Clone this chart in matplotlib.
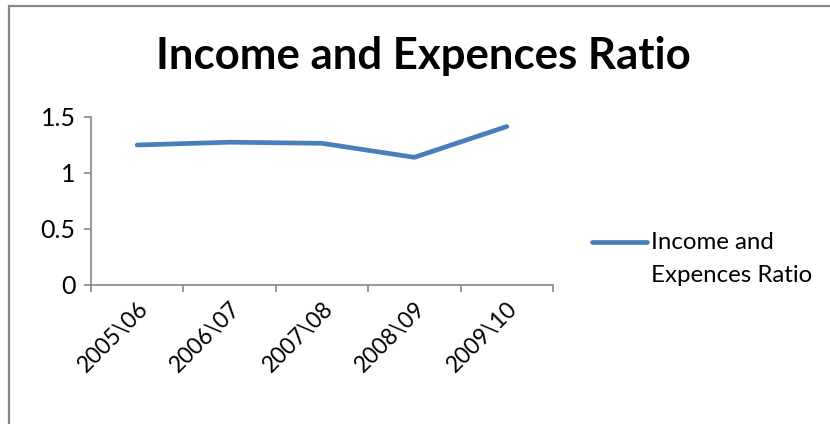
import matplotlib
matplotlib.use("Agg")
import matplotlib.pyplot as plt
import numpy as np
from matplotlib.patches import Rectangle

categories = ["2005\\06", "2006\\07", "2007\\08", "2008\\09", "2009\\10"]
ratio = [1.25, 1.275, 1.265, 1.14, 1.415]
series_name = "Income and\nExpences Ratio"
y_ticks = [0, 0.5, 1, 1.5]
y_tick_labels = ["0", "0.5", "1", "1.5"]

plt.rcParams['font.family'] = ['Lato', 'DejaVu Sans']

W, H = 830, 424
fig = plt.figure(figsize=(W / 100, H / 100), dpi=100)
ax = fig.add_axes([91 / W, 1 - 285 / H, (553 - 91) / W, (285 - 117) / H])

gray = '#878787'
x = list(range(len(categories)))
ax.plot(x, ratio, color='#4a7ebb', lw=3.4, solid_capstyle='round',
        solid_joinstyle='round', label=series_name)

ax.set_xlim(-0.5, len(categories) - 0.5)
ax.set_ylim(0, 1.5)
ax.set_yticks(y_ticks)
ax.set_yticklabels(y_tick_labels)

ax.set_xticks([i - 0.5 for i in range(len(categories) + 1)])
ax.set_xticklabels([])
ax.set_xticks(x, minor=True)
ax.set_xticklabels(categories, minor=True, rotation=45, ha='right',
                   va='top', rotation_mode='anchor')
ax.tick_params(axis='x', which='minor', length=0, pad=9, labelsize=16.5)
ax.tick_params(axis='x', which='major', length=5, color=gray, width=1.2)
ax.tick_params(axis='y', length=5, color=gray, width=1.2, labelsize=18, pad=6)

for s in ['top', 'right']:
    ax.spines[s].set_visible(False)
for s in ['left', 'bottom']:
    ax.spines[s].set_color(gray)
    ax.spines[s].set_linewidth(1.2)

fig.text(423 / W, 1 - 56 / H, "Income and Expences Ratio", ha='center',
         va='center', fontsize=31.5, fontweight='bold')

leg = fig.legend(loc='center left', bbox_to_anchor=(592 / W, 1 - 259 / H),
                 frameon=False, fontsize=17.3, handlelength=2.3,
                 handletextpad=0.17, borderaxespad=0, borderpad=0)
leg.texts[0].set_linespacing(1.65)
# align the legend line with the first text line, as in the reference
hl = leg.legend_handles[0]
hl.set_ydata(np.asarray(hl.get_ydata(), dtype=float) + 12.0)
hl.set_solid_capstyle('round')

fig.add_artist(Rectangle((9 / W, -0.5), 5, 1 - 6 / H + 0.5,
                         transform=fig.transFigure, fill=False,
                         edgecolor=gray, lw=1.6))

fig.savefig("out.png", dpi=100)
